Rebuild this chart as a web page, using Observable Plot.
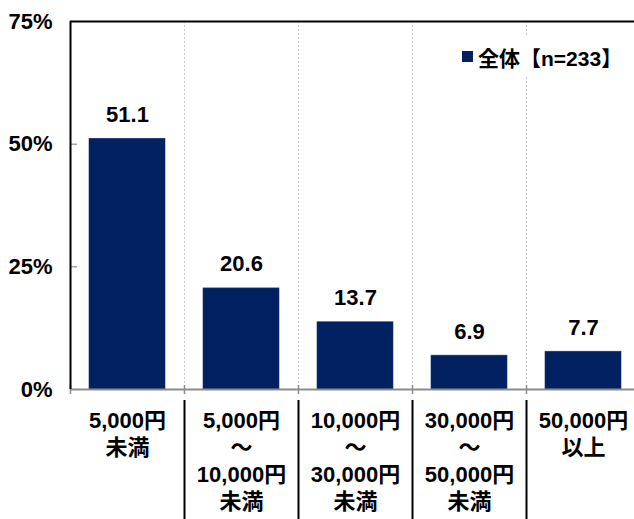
<!DOCTYPE html>
<html>
<head>
<meta charset="utf-8">
<script src="https://cdn.jsdelivr.net/npm/d3@7"></script>
<script src="https://cdn.jsdelivr.net/npm/@observablehq/plot@0.6"></script>
<style>
  body { margin: 0; background: #fff; overflow: hidden; }
  #chart { position: relative; width: 634px; height: 519px; }
  .legend {
    position: absolute; left: 455px; top: 36px; height: 41px; padding: 0 8px 0 7px;
    background: #fff; display: flex; align-items: center;
    font: bold 21px "Liberation Sans", "Noto Sans CJK JP", sans-serif; color: #000;
  }
  .legend .sw { width: 11px; height: 11px; background: #002060; margin-right: 5px; }
</style>
</head>
<body>
<div id="chart"></div>
<script>
// Price ranges (multi-line labels) and share of respondents (%)
const categories = [
  "5,000円\n未満",
  "5,000円\n～\n10,000円\n未満",
  "10,000円\n～\n30,000円\n未満",
  "30,000円\n～\n50,000円\n未満",
  "50,000円\n以上"
];
const values = [51.1, 20.6, 13.7, 6.9, 7.7];
const yTicks = [0, 25, 50, 75];
const seriesName = "全体【n=233】";

const font = '"Liberation Sans", "Noto Sans CJK JP", sans-serif';
const navy = "#002060";
const half = 57; // half of a category step, to reach the band boundary

const chart = Plot.plot({
  width: 634,
  height: 519,
  marginLeft: 70,
  marginRight: 0,
  marginTop: 21,
  marginBottom: 130,
  style: { fontFamily: font, color: "#000", background: "#fff" },
  x: { domain: categories, range: [70, 640], paddingInner: 1 / 3, paddingOuter: 1 / 6 },
  y: { domain: [0, 75] },
  marks: [
    // dashed separators between categories
    Plot.ruleX(categories.slice(1), { x: d => d, dx: -half, stroke: "#c8c8c8", strokeDasharray: "2,2" }),
    // bars
    Plot.barY(values, { x: (d, i) => categories[i], y: d => d, fill: navy, stroke: "#1a3570", strokeWidth: 0.6 }),
    // value labels
    Plot.text(values, {
      x: (d, i) => categories[i], y: d => d, text: d => d.toFixed(1),
      lineAnchor: "bottom", dy: -17, fontSize: 22, fontWeight: "bold", fill: "#000"
    }),
    // baseline and top border
    Plot.ruleY([0], { stroke: "#8c8c8c", strokeWidth: 2 }),
    Plot.ruleY([75], { stroke: "#000", strokeWidth: 2 }),
    // small inner ticks on the value axis
    Plot.ruleY([25, 50], { stroke: "#777", insetRight: 557 }),
    // tick marks on the category axis
    Plot.ruleX(categories, { x: d => d, dx: -half, stroke: "#8c8c8c", strokeWidth: 1.5, insetTop: 364, insetBottom: -5 }),
    // value axis line
    Plot.ruleX(categories.slice(0, 1), { x: d => d, dx: -half, stroke: "#000", strokeWidth: 2 }),
    // black separators between category labels
    Plot.ruleX(categories.slice(1), { x: d => d, dx: -half, stroke: "#000", strokeWidth: 2, insetTop: 379, insetBottom: -135 }),
    Plot.axisY({
      ticks: yTicks, tickFormat: d => d + "%", tickSize: 0, tickPadding: 18,
      fontSize: 22, fontWeight: "bold", label: null
    }),
    Plot.axisX({
      tickSize: 0, tickPadding: 19, fontSize: 22, fontWeight: "bold",
      lineHeight: 27 / 22, lineAnchor: "top", label: null
    })
  ]
});

const host = document.getElementById("chart");
host.appendChild(chart);

const legend = document.createElement("div");
legend.className = "legend";
const sw = document.createElement("span");
sw.className = "sw";
const lab = document.createElement("span");
lab.textContent = seriesName;
legend.append(sw, lab);
host.appendChild(legend);
</script>
</body>
</html>
